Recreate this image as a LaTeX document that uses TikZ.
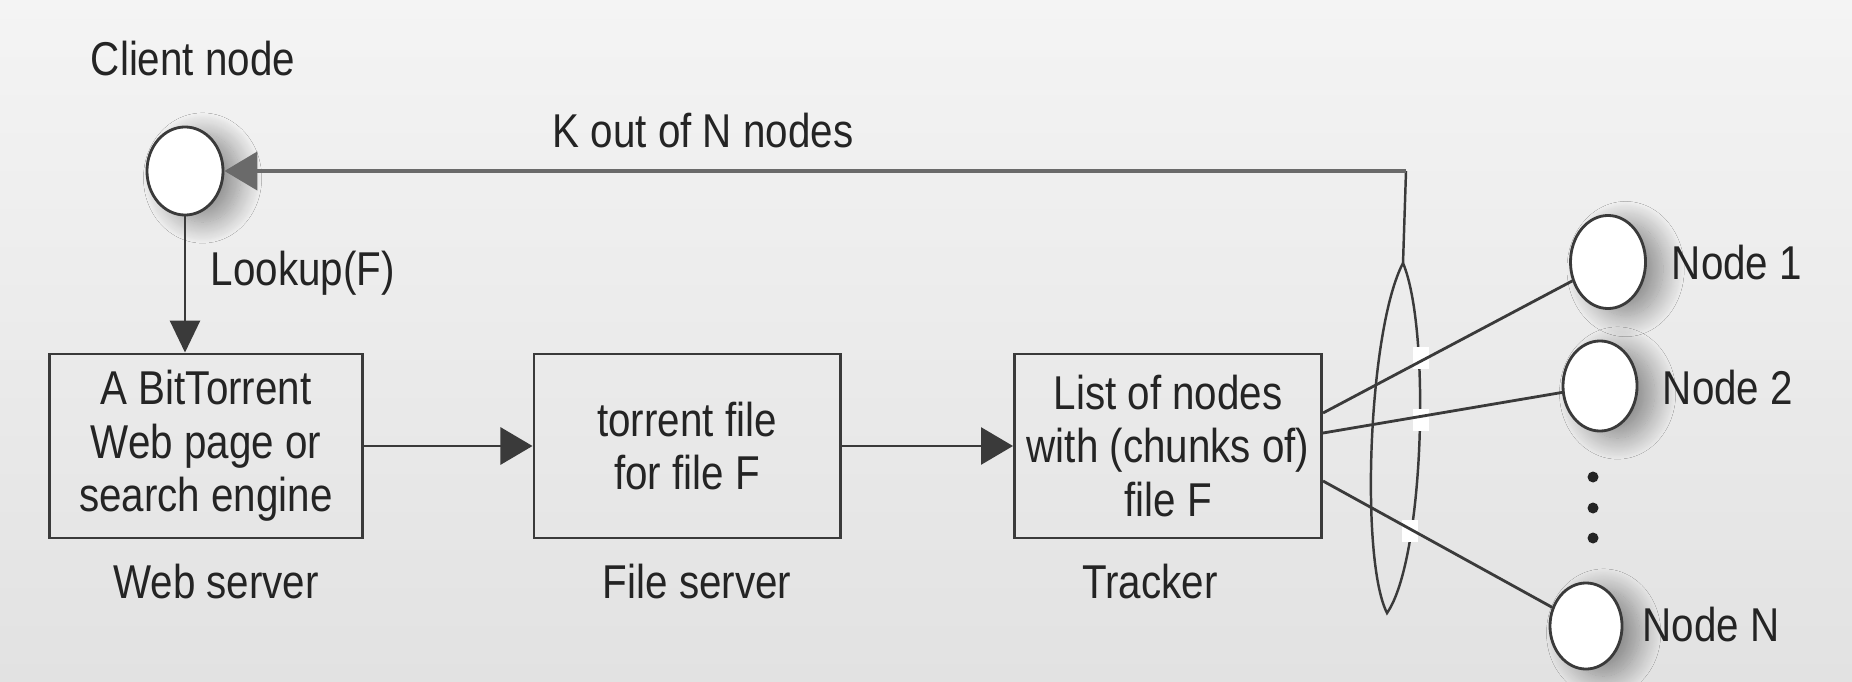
\documentclass[tikz,border=0pt]{standalone}
\usepackage{fontspec}
\setmainfont[FakeStretch=0.85]{Liberation Sans}
\usetikzlibrary{arrows.meta,shapes.geometric,calc,shadows.blur}
\definecolor{bgtop}{HTML}{F4F4F4}
\definecolor{bgmid}{HTML}{E7E7E7}
\definecolor{bgbot}{HTML}{E2E2E2}
\definecolor{ink}{HTML}{3A3A3A}
\definecolor{txt}{HTML}{242424}
\definecolor{topline}{HTML}{6A6A6A}
\begin{document}
\begin{tikzpicture}[x=0.01cm,y=-0.01cm,
  lbl/.style={font=\fontsize{13.5}{15}\selectfont, text=txt, inner sep=0pt},
  box/.style={draw=ink, line width=0.8pt, minimum height=1.84cm, align=center,
    inner sep=0pt, font=\fontsize{13.5}{15.2}\selectfont, text=txt},
  peer/.style={ellipse, draw=ink, line width=0.8pt, fill=white, inner sep=0pt,
    blur shadow={shadow xshift=5pt, shadow yshift=-2pt, shadow blur radius=6pt,
      shadow blur steps=24, shadow opacity=40}},
  conn/.style={draw=ink, line width=0.8pt},
  arr/.style={conn, -{Triangle[length=0.32cm,width=0.37cm]}},
  dotmark/.style={circle, fill=txt, inner sep=0pt, minimum size=0.11cm}
]
\shade[top color=bgtop, middle color=bgmid, bottom color=bgbot] (0,0) rectangle (1852,682);
\useasboundingbox (0,0) rectangle (1852,682);

% client
\node[peer, minimum width=0.76cm, minimum height=0.88cm] (client) at (185,171) {};
\node[lbl] (clientlbl) at (193,59) {Client node};

% boxes
\node[box, minimum width=3.13cm] (web) at (206,446) {A BitTorrent\\Web page or\\search engine};
\node[box, minimum width=3.06cm] (file) at (687,446) {torrent file\\for file F};
\node[box, minimum width=3.07cm] (tracker) at (1168,446) {List of nodes\\with (chunks of)\\file F};
\node[lbl] (weblbl) at (216,582) {Web server};
\node[lbl] (filelbl) at (697,582) {File server};
\node[lbl] (trklbl) at (1150,582) {Tracker};

% peers
\node[peer, minimum width=0.75cm, minimum height=0.93cm] (n1) at (1608,262) {};
\node[peer, minimum width=0.74cm, minimum height=0.90cm] (n2) at (1600,386) {};
\node[peer, minimum width=0.72cm, minimum height=0.86cm] (nN) at (1586,626) {};
\node[lbl] (n1lbl) at (1737,263) {Node 1};
\node[lbl] (n2lbl) at (1728,388) {Node 2};
\node[lbl] (nNlbl) at (1711,625) {Node N};
\node[dotmark] (d1) at (1593,477) {};
\node[dotmark] (d2) at (1593,508) {};
\node[dotmark] (d3) at (1593,538) {};

% lens grouping
\coordinate (ltop) at (1403,263);
\coordinate (lbot) at (1387,613);
\draw[conn, line width=0.7pt] (ltop) .. controls (1431,330) and (1424,560) .. (lbot)
  .. controls (1360,560) and (1368,330) .. (ltop);
\fill[white] (1413,347) rectangle (1429,369);
\fill[white] (1413,409) rectangle (1429,431);
\fill[white] (1402,520) rectangle (1418,542);

% top return arrow
\coordinate (ktop) at (1406,171);
\draw[conn, line width=0.7pt] (ltop) -- (ktop);
\draw[draw=topline, line width=1.3pt, -{Triangle[length=0.33cm,width=0.38cm]}] (ktop) -- (client.east);
\node[lbl] (klbl) at (703,131) {K out of N nodes};

% lookup
\draw[arr, -{Triangle[length=0.32cm,width=0.30cm]}] (client.south) -- (client.south |- web.north);
\node[lbl, anchor=west] (lookup) at (210,273) {Lookup(F)};

% flow
\draw[arr] (web.east) -- (file.west);
\draw[arr] (file.east) -- (tracker.west);

% tracker to peers
\draw[conn] ($(tracker.east)+(0,-33)$) -- (n1);
\draw[conn] ($(tracker.east)+(0,-13)$) -- (n2);
\draw[conn] ($(tracker.east)+(0,35)$) -- (nN);
\end{tikzpicture}
\end{document}
